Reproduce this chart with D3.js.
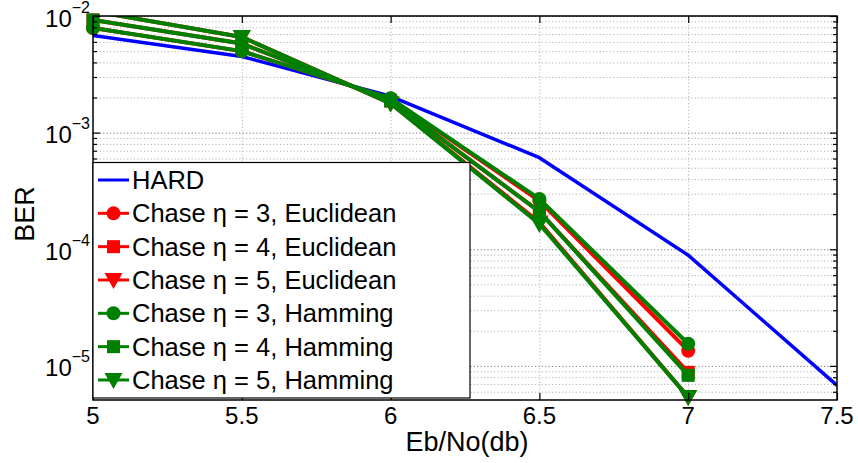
<!DOCTYPE html>
<html>
<head>
<meta charset="utf-8">
<script src="https://cdn.jsdelivr.net/npm/d3@7"></script>
<style>
  html, body { margin: 0; padding: 0; background: #fff; }
  svg { display: block; font-family: "Liberation Sans", Arial, Helvetica, sans-serif; }
</style>
</head>
<body>
<svg id="chart" width="858" height="463"></svg>
<script>
// Eb/No points (dB)
const ebno = [5, 5.5, 6, 6.5, 7];
const ebnoHard = [5, 5.5, 6, 6.5, 7, 7.5];
const xTickValues = [5, 5.5, 6, 6.5, 7, 7.5];

// Bit error rates
const berHard = [6.8e-3, 4.5e-3, 2.05e-3, 6.1e-4, 8.9e-5, 6.8e-6];
const berEuc3 = [7.9e-3, 5.0e-3, 1.96e-3, 2.6e-4, 1.35e-5];
const berEuc4 = [9.25e-3, 5.8e-3, 1.87e-3, 2.1e-4, 8.8e-6];
const berEuc5 = [1.1e-2, 6.6e-3, 1.78e-3, 1.7e-4, 5.4e-6];
const berHam3 = [7.9e-3, 5.0e-3, 1.97e-3, 2.7e-4, 1.55e-5];
const berHam4 = [9.25e-3, 5.8e-3, 1.87e-3, 2.1e-4, 8.3e-6];
const berHam5 = [1.1e-2, 6.6e-3, 1.78e-3, 1.65e-4, 5.4e-6];

const legendLabels = [
  "HARD",
  "Chase η = 3, Euclidean",
  "Chase η = 4, Euclidean",
  "Chase η = 5, Euclidean",
  "Chase η = 3, Hamming",
  "Chase η = 4, Hamming",
  "Chase η = 5, Hamming"
];
const yMajorExponents = [-2, -3, -4, -5];

const series = [
  { name: legendLabels[0], xs: ebnoHard, ys: berHard, color: "#0000ff", marker: null, width: 3.5 },
  { name: legendLabels[1], xs: ebno, ys: berEuc3, color: "#ff0000", marker: "circle", width: 4 },
  { name: legendLabels[2], xs: ebno, ys: berEuc4, color: "#ff0000", marker: "square", width: 4 },
  { name: legendLabels[3], xs: ebno, ys: berEuc5, color: "#ff0000", marker: "triangle", width: 4 },
  { name: legendLabels[4], xs: ebno, ys: berHam3, color: "#008000", marker: "circle", width: 4 },
  { name: legendLabels[5], xs: ebno, ys: berHam4, color: "#008000", marker: "square", width: 4 },
  { name: legendLabels[6], xs: ebno, ys: berHam5, color: "#008000", marker: "triangle", width: 4 }
];

const plotL = 93, plotR = 837, plotT = 16, plotB = 400;
const svg = d3.select("#chart");

const x = d3.scaleLinear().domain([5, 7.5]).range([plotL, plotR]);
const y = d3.scaleLog().domain([5.1e-6, 1e-2]).range([plotB, plotT]);

// log tick positions: majors and minors within the domain
const allLogTicks = [];
for (let e = -6; e <= -2; e++) {
  for (let m = 1; m <= 9; m++) {
    const v = m * Math.pow(10, e);
    if (v >= y.domain()[0] * 0.999 && v <= y.domain()[1] * 1.001) allLogTicks.push(v);
  }
}
const majorTicks = yMajorExponents.map(e => Math.pow(10, e));
const minorTicks = allLogTicks.filter(v => !majorTicks.some(m => Math.abs(m - v) / m < 1e-6));

// dotted grid
const grid = svg.append("g");
grid.append("g")
  .attr("transform", `translate(${plotL},0)`)
  .call(d3.axisLeft(y).tickValues(minorTicks).tickSize(-(plotR - plotL)).tickFormat(""))
  .call(g => g.select(".domain").remove())
  .call(g => g.selectAll("line").attr("stroke", "#b4b4b4").attr("stroke-dasharray", "1.2,2.2").attr("stroke-width", 1));
grid.append("g")
  .attr("transform", `translate(${plotL},0)`)
  .call(d3.axisLeft(y).tickValues(majorTicks).tickSize(-(plotR - plotL)).tickFormat(""))
  .call(g => g.select(".domain").remove())
  .call(g => g.selectAll("line").attr("stroke", "#7a7a7a").attr("stroke-dasharray", "1.2,2.2").attr("stroke-width", 1));
grid.append("g")
  .attr("transform", `translate(0,${plotB})`)
  .call(d3.axisBottom(x).tickValues(xTickValues.slice(1, -1)).tickSize(-(plotB - plotT)).tickFormat(""))
  .call(g => g.select(".domain").remove())
  .call(g => g.selectAll("line").attr("stroke", "#b4b4b4").attr("stroke-dasharray", "1.2,2.2").attr("stroke-width", 1));

// clip for lines
svg.append("clipPath").attr("id", "plotClip")
  .append("rect").attr("x", plotL).attr("y", plotT).attr("width", plotR - plotL).attr("height", plotB - plotT);

const lineGen = d3.line().x(d => x(d[0])).y(d => y(d[1]));

function drawMarker(g, kind, cx, cy, color) {
  if (kind === "circle") {
    g.append("circle").attr("cx", cx).attr("cy", cy).attr("r", 7).attr("fill", color);
  } else if (kind === "square") {
    g.append("rect").attr("x", cx - 6.5).attr("y", cy - 6.5).attr("width", 13).attr("height", 13).attr("fill", color);
  } else if (kind === "triangle") {
    g.append("path")
      .attr("d", `M${cx - 9},${cy - 7}L${cx + 9},${cy - 7}L${cx},${cy + 9}Z`)
      .attr("fill", color);
  }
}

const plot = svg.append("g");
series.forEach(s => {
  const pts = s.xs.map((v, i) => [v, s.ys[i]]);
  const g = plot.append("g");
  g.append("path")
    .datum(pts)
    .attr("clip-path", "url(#plotClip)")
    .attr("d", lineGen)
    .attr("fill", "none")
    .attr("stroke", s.color)
    .attr("stroke-width", s.width)
    .attr("stroke-linejoin", "round");
  if (s.marker) {
    pts.filter(p => p[1] <= y.domain()[1] && p[1] >= y.domain()[0])
      .forEach(p => drawMarker(g, s.marker, x(p[0]), y(p[1]), s.color));
  }
});

// axes box and ticks
const axes = svg.append("g");
function tickStyle(g) {
  g.select(".domain").remove();
  g.selectAll("line").attr("stroke", "#000").attr("stroke-width", 1.2);
}
axes.append("g").attr("transform", `translate(${plotL},0)`)
  .call(d3.axisLeft(y).tickValues(minorTicks).tickSize(-4).tickFormat("")).call(tickStyle);
axes.append("g").attr("transform", `translate(${plotR},0)`)
  .call(d3.axisRight(y).tickValues(minorTicks).tickSize(-4).tickFormat("")).call(tickStyle);
axes.append("g").attr("transform", `translate(${plotL},0)`)
  .call(d3.axisLeft(y).tickValues(majorTicks).tickSize(-7).tickFormat("")).call(tickStyle);
axes.append("g").attr("transform", `translate(${plotR},0)`)
  .call(d3.axisRight(y).tickValues(majorTicks).tickSize(-7).tickFormat("")).call(tickStyle);
axes.append("g").attr("transform", `translate(0,${plotB})`)
  .call(d3.axisBottom(x).tickValues(xTickValues).tickSize(-7).tickFormat("")).call(tickStyle);
axes.append("g").attr("transform", `translate(0,${plotT})`)
  .call(d3.axisTop(x).tickValues(xTickValues).tickSize(-7).tickFormat("")).call(tickStyle);
svg.append("rect")
  .attr("x", plotL).attr("y", plotT).attr("width", plotR - plotL).attr("height", plotB - plotT)
  .attr("fill", "none").attr("stroke", "#000").attr("stroke-width", 1.5);

// x tick labels
svg.append("g").selectAll("text")
  .data(xTickValues).join("text")
  .attr("x", d => x(d)).attr("y", plotB + 24)
  .attr("text-anchor", "middle")
  .attr("font-size", 24)
  .text(d => String(d));

// y tick labels: 10 with superscript exponent
const yLab = svg.append("g").selectAll("text")
  .data(yMajorExponents).join("text")
  .attr("x", 90).attr("y", e => y(Math.pow(10, e)) + 10.5)
  .attr("text-anchor", "end")
  .attr("font-size", 24);
yLab.append("tspan").text("10");
yLab.append("tspan").attr("font-size", 16).attr("dy", -14).text(e => "\u2212" + Math.abs(e));

// axis titles
svg.append("text")
  .attr("x", (plotL + plotR) / 2 + 2).attr("y", 451)
  .attr("text-anchor", "middle").attr("font-size", 27)
  .text("Eb/No(db)");
svg.append("text")
  .attr("transform", `translate(34,${(plotT + plotB) / 2 + 6}) rotate(-90)`)
  .attr("text-anchor", "middle").attr("font-size", 27)
  .text("BER");

// legend
const legX = 93, legY = 162.5, legW = 377, legH = 235.5, rowH = 33.33;
const legend = svg.append("g");
legend.append("rect")
  .attr("x", legX).attr("y", legY).attr("width", legW).attr("height", legH)
  .attr("fill", "#fff").attr("stroke", "#000").attr("stroke-width", 1.2);
series.forEach((s, i) => {
  const cy = legY + 17.5 + i * rowH;
  const g = legend.append("g");
  g.append("line").attr("x1", 98).attr("x2", 129).attr("y1", cy).attr("y2", cy)
    .attr("stroke", s.color).attr("stroke-width", 3);
  if (s.marker) drawMarker(g, s.marker, 113.5, cy, s.color);
  g.append("text").attr("x", 132).attr("y", cy + 9).attr("font-size", 25.5).text(s.name);
});
</script>
</body>
</html>
